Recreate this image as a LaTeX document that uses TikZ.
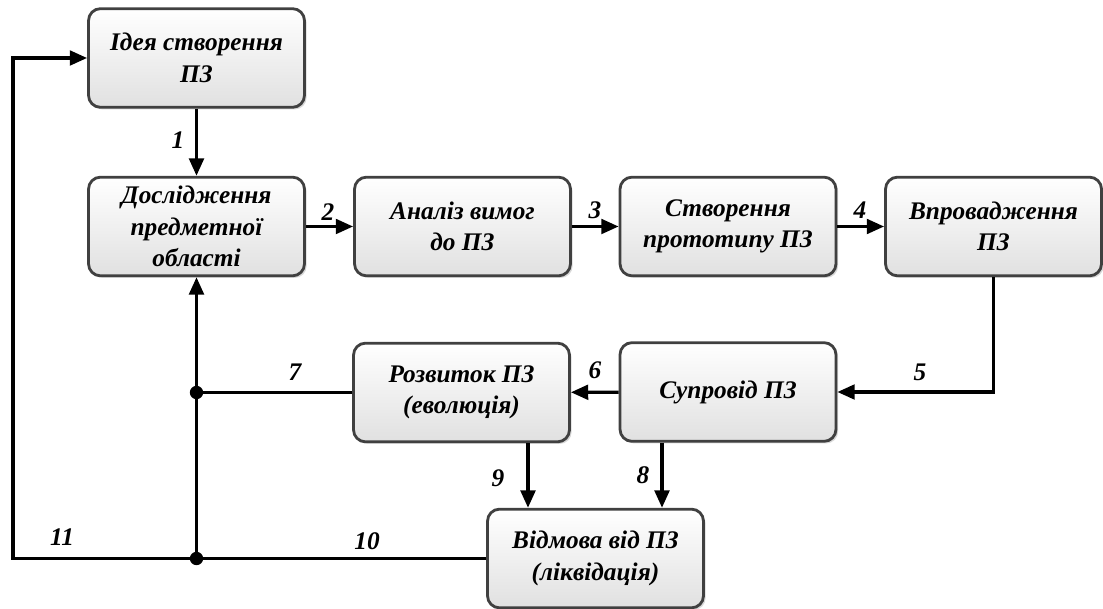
\documentclass[tikz,border=0pt]{standalone}
\usepackage{fontspec}
\setmainfont{Liberation Serif}
\usetikzlibrary{arrows.meta,shadows}
\begin{document}
\begin{tikzpicture}[x=0.75pt,y=-0.75pt,
  stage/.style={draw=black!75, line width=2.1pt, rounded corners=9pt,
    top color=white, bottom color=black!12,
    minimum width=162pt, minimum height=74pt, align=center, inner sep=2pt,
    font=\fontsize{19}{23.5}\selectfont\bfseries\itshape,
    general shadow={fill=black!30, shadow xshift=1.6pt, shadow yshift=-1.6pt, opacity=0.5}},
  flow/.style={line width=2.4pt, -{Triangle[length=13pt,width=11pt]}},
  link/.style={line width=2.4pt},
  num/.style={font=\fontsize{19}{22}\selectfont\bfseries\itshape, inner sep=0pt},
  junction/.style={circle, fill=black, minimum size=10pt, inner sep=0pt}
]
\useasboundingbox (0,0) rectangle (1103,609);

% life-cycle stages
\node[stage] (idea)    at (196.5,58)    {Ідея створення\\ПЗ};
\node[stage] (study)   at (196.5,226.5) {Дослідження\\предметної\\області};
\node[stage] (req)     at (462.5,226.5) {Аналіз вимог\\до ПЗ};
\node[stage] (proto)   at (728,226.5)   {Створення\\прототипу ПЗ};
\node[stage] (deploy)  at (993.5,226.5) {Впровадження\\ПЗ};
\node[stage] (support) at (728,392)     {Супровід ПЗ};
\node[stage] (evol)    at (461.5,392.5) {Розвиток ПЗ\\(еволюція)};
\node[stage] (retire)  at (595.5,558.5) {Відмова від ПЗ\\(ліквідація)};

% helper columns and branch points
\coordinate (x8) at (662,0);
\coordinate (x9) at (528,0);
\coordinate (xl) at (13,0);
\node[junction] (j7)  at (study.south |- evol.west) {};
\node[junction] (j10) at (study.south |- retire.west) {};

% connectors
\draw[flow] (idea) -- (study);
\draw[flow] (study) -- (req);
\draw[flow] (req) -- (proto);
\draw[flow] (proto) -- (deploy);
\draw[flow] (deploy.south) |- (support.east);
\draw[flow] (support) -- (evol);
\draw[link] (evol.west) -- (j7.center);
\draw[flow] (support.south -| x8) -- (retire.north -| x8);
\draw[flow] (evol.south -| x9) -- (retire.north -| x9);
\draw[link] (retire.west) -- (j10.center);
\draw[flow] (j10.center) -- (study.south);
\draw[flow] (j10.center) -| (xl |- idea.west) -- (idea.west);

% transition numbers
\node[num] (n1)  at (178,140) {1};
\node[num] (n2)  at (328,212) {2};
\node[num] (n3)  at (595,210) {3};
\node[num] (n4)  at (860,210) {4};
\node[num] (n5)  at (920,372) {5};
\node[num] (n6)  at (595,370) {6};
\node[num] (n7)  at (295,372) {7};
\node[num] (n8)  at (643,475) {8};
\node[num] (n9)  at (498,478) {9};
\node[num] (n10) at (367,541) {10};
\node[num] (n11) at (62,537)  {11};
\end{tikzpicture}
\end{document}
